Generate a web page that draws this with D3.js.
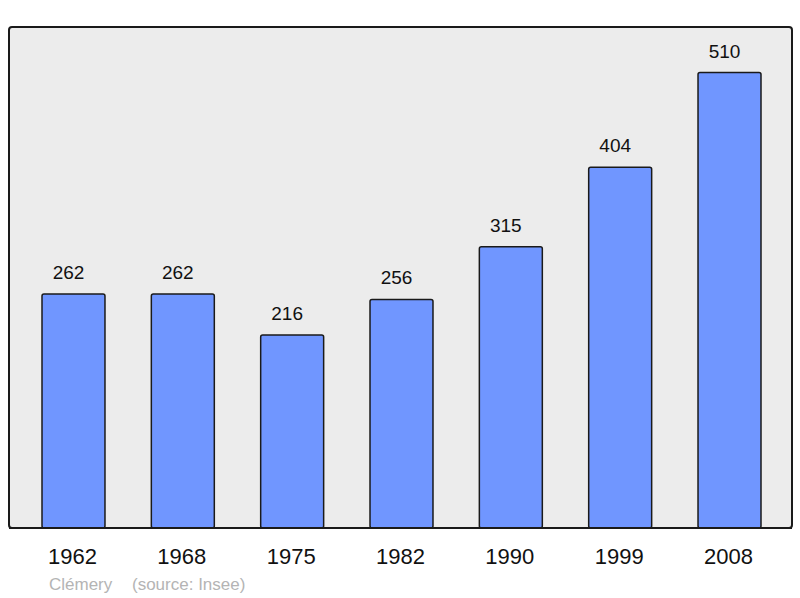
<!DOCTYPE html>
<html>
<head>
<meta charset="utf-8">
<script src="https://cdn.jsdelivr.net/npm/d3@7"></script>
<style>
  body { margin: 0; background: #fff; }
  text { font-family: "Liberation Sans", Arial, sans-serif; }
</style>
</head>
<body>
<svg id="chart" width="800" height="598"></svg>
<script>
const years = ['1962', '1968', '1975', '1982', '1990', '1999', '2008'];
const population = [262, 262, 216, 256, 315, 404, 510];
const commune = 'Clémery';
const source = '(source: Insee)';

const frame = { left: 9, top: 27, right: 792, bottom: 528 };

const svg = d3.select('#chart');

const x = d3.scaleBand()
  .domain(years)
  .range([42, 761])
  .paddingInner(0.424)
  .paddingOuter(0);

const y = d3.scaleLinear()
  .domain([0, 561])
  .range([frame.bottom, frame.top]);

svg.append('rect')
  .attr('x', frame.left)
  .attr('y', frame.top)
  .attr('width', frame.right - frame.left)
  .attr('height', frame.bottom - frame.top)
  .attr('rx', 3)
  .attr('fill', '#ececec')
  .attr('stroke', '#1a1a1a')
  .attr('stroke-width', 2);

svg.selectAll('rect.bar')
  .data(population)
  .join('rect')
  .attr('class', 'bar')
  .attr('x', (d, i) => x(years[i]))
  .attr('y', d => y(d))
  .attr('width', x.bandwidth())
  .attr('height', d => y(0) - y(d))
  .attr('rx', 2)
  .attr('fill', '#7096ff')
  .attr('stroke', '#1a1a1a')
  .attr('stroke-width', 1.5);

// value labels sit a little left of the bar centre, as in the original
svg.selectAll('text.value')
  .data(population)
  .join('text')
  .attr('class', 'value')
  .attr('x', (d, i) => x(years[i]) + x.bandwidth() / 2 - 5)
  .attr('y', d => y(d) - 15)
  .attr('text-anchor', 'middle')
  .attr('font-size', 19)
  .attr('fill', '#111')
  .text(d => d);

// redraw the baseline on top of the bars
svg.append('line')
  .attr('x1', frame.left)
  .attr('x2', frame.right)
  .attr('y1', frame.bottom)
  .attr('y2', frame.bottom)
  .attr('stroke', '#1a1a1a')
  .attr('stroke-width', 2);

const axis = d3.axisBottom(x).tickSize(0).tickPadding(0);
const gx = svg.append('g')
  .attr('transform', `translate(0, ${frame.bottom})`)
  .call(axis);
gx.select('.domain').remove();
gx.selectAll('text')
  .attr('dy', null)
  .attr('x', -1)
  .attr('y', 36)
  .attr('font-size', 22)
  .attr('font-family', '"Liberation Sans", Arial, sans-serif')
  .attr('fill', '#111');

svg.append('text')
  .attr('x', 49)
  .attr('y', 590)
  .attr('font-size', 17)
  .attr('fill', '#b4b4b4')
  .text(commune);

svg.append('text')
  .attr('x', 132)
  .attr('y', 590)
  .attr('font-size', 17)
  .attr('fill', '#b4b4b4')
  .text(source);
</script>
</body>
</html>
